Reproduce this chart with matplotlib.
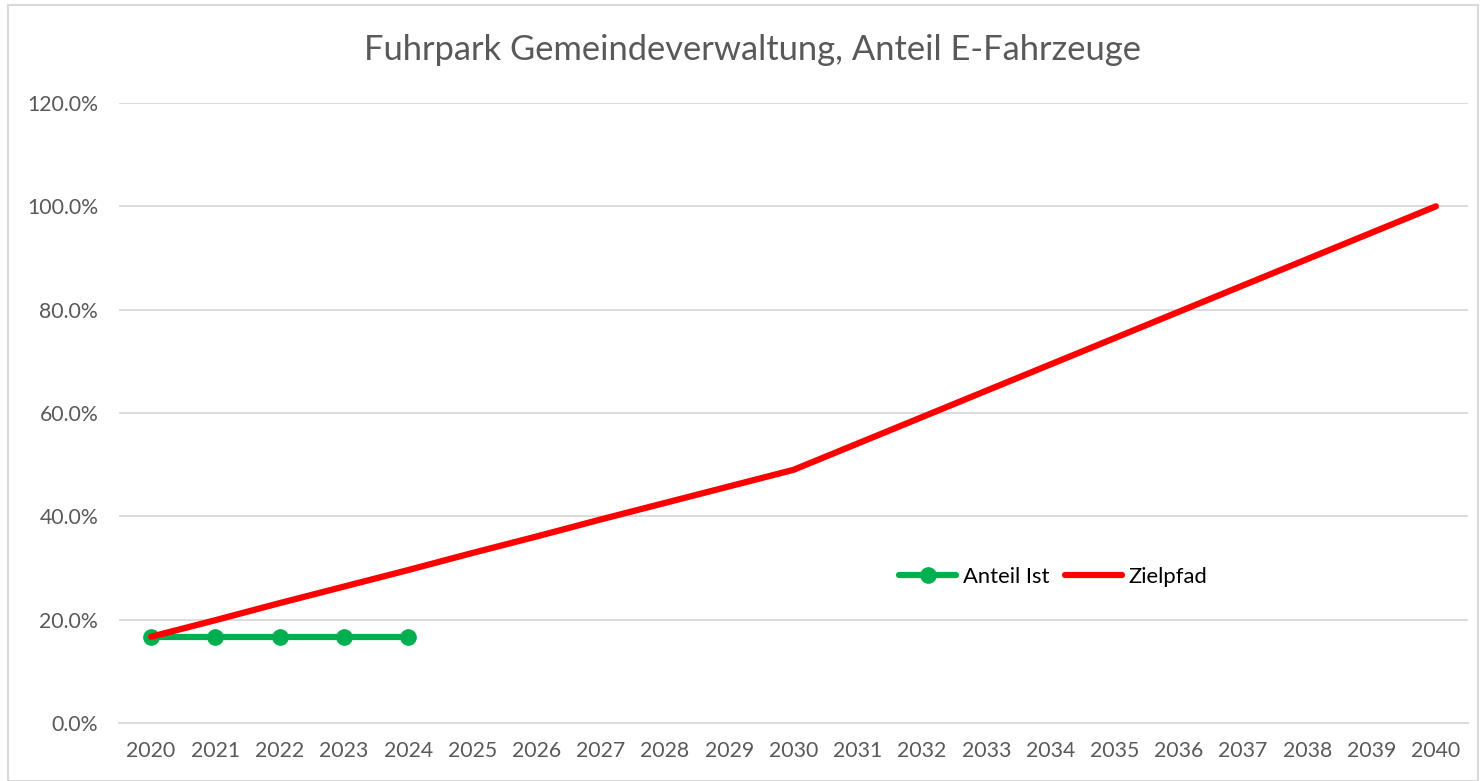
import matplotlib.pyplot as plt
from matplotlib.patches import Rectangle
from matplotlib.ticker import PercentFormatter

years = [str(y) for y in range(2020, 2041)]
anteil_ist = [16.7, 16.7, 16.7, 16.7, 16.7]
zielpfad = [16.7, 19.9, 23.2, 26.4, 29.6, 32.9, 36.1, 39.4, 42.6, 45.8, 49.0,
            54.1, 59.2, 64.3, 69.4, 74.5, 79.6, 84.7, 89.8, 94.9, 100.0]
y_ticks = [0, 20, 40, 60, 80, 100, 120]

plt.rcParams['font.family'] = ['Lato', 'DejaVu Sans']

fig = plt.figure(figsize=(14.83, 7.81), dpi=100)
ax = fig.add_axes([119 / 1483, 1 - 723 / 781, (1468 - 119) / 1483, (723 - 103) / 781])

x = list(range(len(years)))
ax.plot(x[:len(anteil_ist)], anteil_ist, color='#00b050', lw=4.5, marker='o',
        markersize=11, solid_capstyle='round', label='Anteil Ist', zorder=3)
ax.plot(x, zielpfad, color='#ff0000', lw=4.5, solid_capstyle='round',
        label='Zielpfad', zorder=4)

ax.set_xlim(-0.5, len(years) - 0.5)
ax.set_ylim(0, 120)
ax.set_xticks(x)
ax.set_xticklabels(years)
ax.set_yticks(y_ticks)
ax.yaxis.set_major_formatter(PercentFormatter(decimals=1))
ax.grid(axis='y', color='#d9d9d9', lw=1.3)
ax.set_axisbelow(True)
for s in ['top', 'right', 'left']:
    ax.spines[s].set_visible(False)
ax.spines['bottom'].set_color('#d9d9d9')
ax.spines['bottom'].set_linewidth(1.3)
ax.tick_params(length=0, labelsize=15.3, colors='#595959', pad=13)
ax.tick_params(axis='y', pad=15)

ax.legend(loc='center', bbox_to_anchor=(1053 / 1483, 1 - 577 / 781),
          bbox_transform=fig.transFigure, ncol=2, frameon=False, fontsize=15.8,
          handlelength=2.6, handletextpad=0.3, columnspacing=0.7)

fig.text(752 / 1483, 1 - 50 / 781, 'Fuhrpark Gemeindeverwaltung, Anteil E-Fahrzeuge',
         ha='center', va='center', fontsize=24.8, color='#595959')

# chart frame
fig.patches.append(Rectangle((8 / 1483, 0.0), 1470 / 1483, 1 - 5 / 781,
                             transform=fig.transFigure, fill=False,
                             edgecolor='#d9d9d9', lw=1.5))

fig.savefig('out.png', dpi=100)
